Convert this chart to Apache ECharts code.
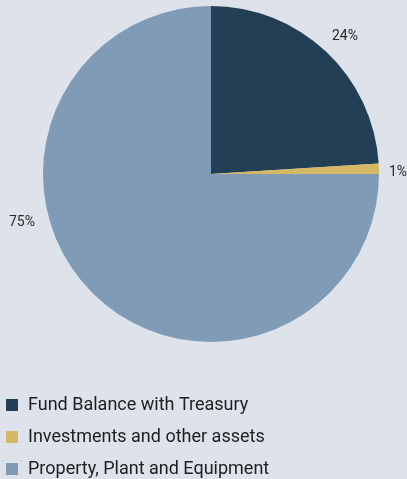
<!DOCTYPE html>
<html>
<head>
<meta charset="utf-8">
<script src="https://cdn.jsdelivr.net/npm/echarts@6/dist/echarts.min.js"></script>
<style>
  html, body { margin: 0; padding: 0; background: #dde2eb; }
  #chart { width: 407px; height: 479px; }
</style>
</head>
<body>
<div id="chart"></div>
<script>
// Asset composition, share of total (%)
const categories = [
  'Fund Balance with Treasury',
  'Investments and other assets',
  'Property, Plant and Equipment'
];
const shares = [24, 1, 75];
const colors = ['#233f55', '#d5b863', '#7f9bb6'];

// where each percentage label sits (label centre)
const labelSpots = [[345, 36], [398, 172], [22, 222]];

const chart = echarts.init(document.getElementById('chart'), null, { renderer: 'canvas' });

chart.setOption({
  backgroundColor: '#dde2eb',
  animation: false,
  color: colors,
  legend: {
    orient: 'vertical',
    left: 1,
    top: 391,
    height: 140,
    itemWidth: 12,
    itemHeight: 12,
    itemGap: 14,
    icon: 'rect',
    textStyle: {
      fontFamily: 'Roboto',
      fontSize: 18,
      color: '#1e1e1e',
      padding: [0, 0, 0, 5]
    },
    data: categories
  },
  series: [{
    type: 'pie',
    center: [211, 174],
    radius: [0, 168],
    startAngle: 90,
    clockwise: true,
    avoidLabelOverlap: false,
    itemStyle: { borderWidth: 0 },
    label: {
      show: true,
      position: 'outside',
      formatter: '{d}%',
      fontFamily: 'Roboto',
      fontSize: 14,
      color: '#2a2a2a'
    },
    labelLine: { show: false },
    labelLayout: function (p) {
      const s = labelSpots[p.dataIndex];
      return { x: s[0], y: s[1], align: 'center', verticalAlign: 'middle' };
    },
    data: categories.map((name, i) => ({ name: name, value: shares[i] }))
  }]
});
</script>
</body>
</html>
